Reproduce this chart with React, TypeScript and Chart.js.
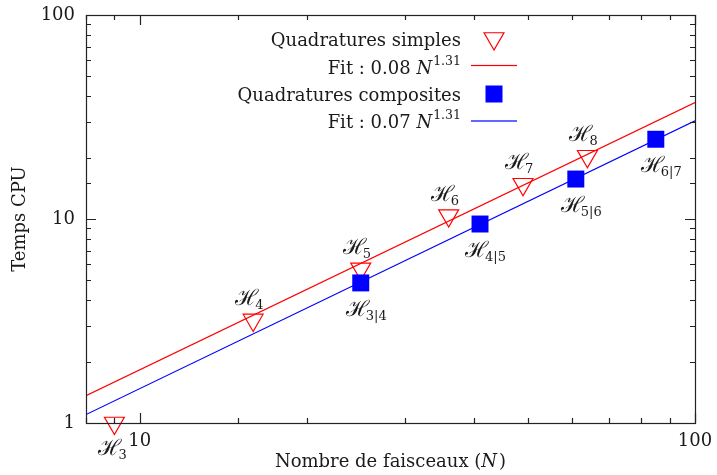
import React, { useEffect, useRef } from 'react';
import { Chart, registerables } from 'chart.js';

Chart.register(...registerables);

// ---- data ----
const simpleN = [9, 16, 25, 36, 49, 64];
const simpleTime = [1.0, 3.2, 5.7, 10.4, 14.8, 20.3];
const simpleSubs = ['3', '4', '5', '6', '7', '8'];

const compositeN = [25, 41, 61, 85];
const compositeTime = [4.86, 9.45, 15.7, 24.6];
const compositeSubs = ['3|4', '4|5', '5|6', '6|7'];

const fitN = [8, 100];
const fitSimpleTime = [1.36, 37.2];
const fitCompositeTime = [1.1, 30.3];

const seriesNames = ['Quadratures simples', 'Fit : 0.08 ', 'Quadratures composites', 'Fit : 0.07 '];
const fitExponent = '1.31';
const xTickLabels = [10, 100];
const yTickLabels = [1, 10, 100];
const xTitle = 'Nombre de faisceaux (';
const xTitleVar = 'N';
const yTitle = 'Temps CPU';

// ---- style ----
const FONT = '"DejaVu Serif", "Liberation Serif", serif';
const TEXT = '#1a1a1a';
const RED = '#ff0000';
const BLUE = '#0000ff';

const zeroPad = (s: any) => {
  s.paddingTop = 0;
  s.paddingBottom = 0;
  s.paddingLeft = 0;
  s.paddingRight = 0;
};

const framePlugin = {
  id: 'frame',
  afterDraw(chart: any) {
    const { ctx, chartArea: a } = chart;
    const xs = chart.scales.x;
    const ys = chart.scales.y;
    ctx.save();
    ctx.strokeStyle = '#222';
    ctx.lineWidth = 1.2;
    const isMajor = (v: number) => Math.abs(Math.log10(v) - Math.round(Math.log10(v))) < 1e-9;
    ctx.beginPath();
    xs.ticks.forEach((t: any) => {
      const px = Math.round(xs.getPixelForValue(t.value)) + 0.5;
      const len = isMajor(t.value) ? 10 : 5;
      ctx.moveTo(px, a.bottom);
      ctx.lineTo(px, a.bottom - len);
      ctx.moveTo(px, a.top);
      ctx.lineTo(px, a.top + len);
    });
    ys.ticks.forEach((t: any) => {
      const py = Math.round(ys.getPixelForValue(t.value)) + 0.5;
      const len = isMajor(t.value) ? 10 : 5;
      ctx.moveTo(a.left, py);
      ctx.lineTo(a.left + len, py);
      ctx.moveTo(a.right, py);
      ctx.lineTo(a.right - len, py);
    });
    ctx.stroke();
    ctx.strokeRect(Math.round(a.left) + 0.5, Math.round(a.top) + 0.5, Math.round(a.right - a.left), Math.round(a.bottom - a.top));

    // x title with italic N
    ctx.fillStyle = TEXT;
    ctx.textBaseline = 'alphabetic';
    ctx.font = `18px ${FONT}`;
    const w1 = ctx.measureText(xTitle).width;
    ctx.font = `italic 18px ${FONT}`;
    const w2 = ctx.measureText(xTitleVar).width;
    ctx.font = `18px ${FONT}`;
    const w3 = ctx.measureText(')').width;
    const total = w1 + w2 + w3 + 2;
    const x0 = (a.left + a.right) / 2 - total / 2;
    const by = 467;
    ctx.textAlign = 'left';
    ctx.fillText(xTitle, x0, by);
    ctx.font = `italic 18px ${FONT}`;
    ctx.fillText(xTitleVar, x0 + w1, by);
    ctx.font = `18px ${FONT}`;
    ctx.fillText(')', x0 + w1 + w2 + 2, by);
    ctx.restore();
  },
};

function drawLabel(ctx: any, sub: string, left: number, base: number) {
  ctx.font = `22px ${FONT}`;
  ctx.textAlign = 'left';
  ctx.textBaseline = 'alphabetic';
  ctx.fillStyle = TEXT;
  ctx.fillText('ℋ', left, base);
  const w = ctx.measureText('ℋ').width;
  ctx.font = `13px ${FONT}`;
  ctx.fillText(sub, left + w - 3, base + 4);
}

const labelPlugin = {
  id: 'pointLabels',
  afterDatasetsDraw(chart: any) {
    const { ctx, chartArea: a } = chart;
    ctx.save();
    const m0 = chart.getDatasetMeta(0);
    m0.data.forEach((el: any, i: number) => {
      if (el.y > a.bottom - 10) drawLabel(ctx, simpleSubs[i], el.x - 16, el.y + 32);
      else drawLabel(ctx, simpleSubs[i], el.x - 18, el.y - 15);
    });
    const m2 = chart.getDatasetMeta(2);
    m2.data.forEach((el: any, i: number) => {
      drawLabel(ctx, compositeSubs[i], el.x - 15, el.y + 33);
    });
    ctx.restore();
  },
};

const legendPlugin = {
  id: 'customLegend',
  afterDraw(chart: any) {
    const { ctx } = chart;
    ctx.save();
    const right = 461;
    const sx0 = 471;
    const sx1 = 517;
    const cx = 494;
    const baselines = [46, 74, 101, 128];
    const marks = [38.5, 65.5, 94, 121];
    ctx.fillStyle = TEXT;
    ctx.textBaseline = 'alphabetic';
    [0, 2].forEach((r) => {
      ctx.font = `18px ${FONT}`;
      ctx.textAlign = 'right';
      ctx.fillText(seriesNames[r], right, baselines[r]);
    });
    [1, 3].forEach((r) => {
      ctx.font = `12.5px ${FONT}`;
      const wS = ctx.measureText(fitExponent).width;
      ctx.font = `italic 18px ${FONT}`;
      const wN = ctx.measureText('N').width;
      ctx.font = `18px ${FONT}`;
      const wA = ctx.measureText(seriesNames[r]).width;
      const x0 = right - wS - wN - wA - 1;
      ctx.textAlign = 'left';
      ctx.fillText(seriesNames[r], x0, baselines[r]);
      ctx.font = `italic 18px ${FONT}`;
      ctx.fillText('N', x0 + wA, baselines[r]);
      ctx.font = `12.5px ${FONT}`;
      ctx.fillText(fitExponent, x0 + wA + wN + 1, baselines[r] - 9);
    });
    // samples
    const r = 11.5;
    const ty = marks[0];
    ctx.lineWidth = 1.2;
    ctx.strokeStyle = RED;
    ctx.beginPath();
    ctx.moveTo(cx, ty + r);
    ctx.lineTo(cx - r * 0.866, ty - r / 2);
    ctx.lineTo(cx + r * 0.866, ty - r / 2);
    ctx.closePath();
    ctx.stroke();

    ctx.fillStyle = RED;
    ctx.fillRect(sx0, marks[1] - 0.6, sx1 - sx0, 1.2);

    ctx.fillStyle = BLUE;
    ctx.fillRect(cx - 8.5, marks[2] - 8.5, 17, 17);

    ctx.fillStyle = BLUE;
    ctx.fillRect(sx0, marks[3] - 0.6, sx1 - sx0, 1.2);
    ctx.restore();
  },
};

export default function App() {
  const ref = useRef<HTMLCanvasElement | null>(null);

  useEffect(() => {
    document.body.style.margin = '0';
    const canvas = ref.current;
    if (!canvas) return;
    const chart = new Chart(canvas, {
      type: 'scatter',
      data: {
        datasets: [
          {
            label: seriesNames[0],
            data: simpleN.map((n, i) => ({ x: n, y: simpleTime[i] })),
            pointStyle: 'triangle',
            rotation: 180,
            pointRadius: 11.5,
            borderWidth: 1.2,
            borderColor: RED,
            backgroundColor: 'rgba(0,0,0,0)',
            showLine: false,
            clip: false as any,
            order: 1,
          },
          {
            label: seriesNames[1],
            data: fitN.map((n, i) => ({ x: n, y: fitSimpleTime[i] })),
            borderColor: RED,
            borderWidth: 1.2,
            pointRadius: 0,
            showLine: true,
            order: 3,
          },
          {
            label: seriesNames[2],
            data: compositeN.map((n, i) => ({ x: n, y: compositeTime[i] })),
            pointStyle: 'rect',
            pointRadius: 12,
            borderWidth: 0,
            borderColor: BLUE,
            backgroundColor: BLUE,
            showLine: false,
            order: 0,
          },
          {
            label: seriesNames[3],
            data: fitN.map((n, i) => ({ x: n, y: fitCompositeTime[i] })),
            borderColor: BLUE,
            borderWidth: 1.2,
            pointRadius: 0,
            showLine: true,
            order: 2,
          },
        ],
      },
      options: {
        animation: false,
        responsive: true,
        maintainAspectRatio: false,
        layout: { padding: { top: 15, right: 22, left: 0, bottom: 0 } },
        plugins: {
          legend: { display: false },
          tooltip: { enabled: false },
        },
        scales: {
          x: {
            type: 'logarithmic',
            min: 8,
            max: 100,
            afterFit: (s: any) => {
              s.height = 52;
              zeroPad(s);
            },
            grid: { display: false, drawTicks: false },
            border: { display: false },
            ticks: {
              autoSkip: false,
              maxRotation: 0,
              padding: 8,
              color: TEXT,
              font: { family: FONT, size: 18 },
              callback: (v: any) => (xTickLabels.includes(Number(v)) ? String(v) : ''),
            },
          },
          y: {
            type: 'logarithmic',
            min: 1,
            max: 100,
            afterFit: (s: any) => {
              s.width = 86;
              zeroPad(s);
            },
            grid: { display: false, drawTicks: false },
            border: { display: false },
            title: {
              display: true,
              text: yTitle,
              color: TEXT,
              font: { family: FONT, size: 18 },
              padding: { top: 10, bottom: 0 },
            },
            ticks: {
              autoSkip: false,
              padding: 11,
              color: TEXT,
              font: { family: FONT, size: 18 },
              callback: (v: any) => (yTickLabels.includes(Number(v)) ? String(v) : ''),
            },
          },
        },
      },
      plugins: [framePlugin, labelPlugin, legendPlugin],
    });
    return () => chart.destroy();
  }, []);

  return (
    <div style={{ width: 717, height: 475, position: 'relative' }}>
      <canvas ref={ref} style={{ display: 'block' }} />
    </div>
  );
}
